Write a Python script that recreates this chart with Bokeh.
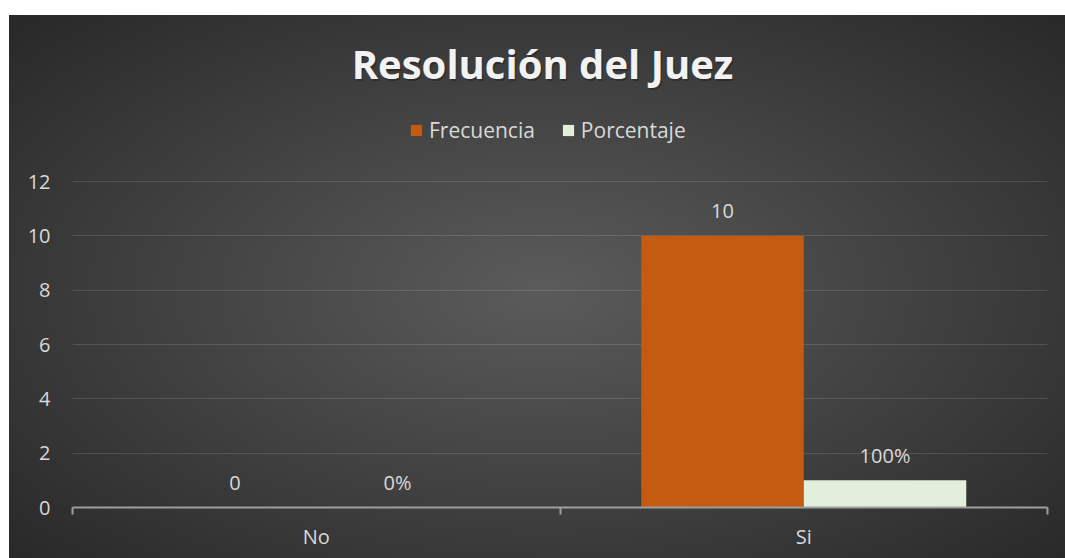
from bokeh.plotting import figure
from bokeh.models import Range1d, FixedTicker, Legend, LegendItem, Label, ColumnDataSource
from bokeh.core.properties import value
from bokeh.embed import file_html
from bokeh.resources import INLINE

# ---- data ----
categories = ["No", "Si"]
series_names = ["Frecuencia", "Porcentaje"]
frecuencia = [0, 10]
porcentaje = [0.0, 1.0]
frecuencia_labels = ["0", "10"]
porcentaje_labels = ["0%", "100%"]
y_ticks = [0, 2, 4, 6, 8, 10, 12]
title_text = "Resolución del Juez"

# ---- layout / styles ----
colors = ["#C55A11", "#E2EFDA"]
FONT = "Open Sans"
TXT = "#d9d9d9"
bar_w = 1 / 3

W, H = 1065, 558
PLOT_LEFT, PLOT_RIGHT = 72, 1047      # pixel edges of the value area
AXIS_TOP, AXIS_BOTTOM = 181, 507      # pixel of top tick and of zero line
FRAME_TOP = 15                        # frame extends up so title/legend fit inside it

px_per_unit = (AXIS_BOTTOM - AXIS_TOP) / y_ticks[-1]
y_top = y_ticks[-1] + (AXIS_TOP - FRAME_TOP) / px_per_unit

centers = [i + 0.5 for i in range(len(categories))]
x_f = [c - bar_w / 2 for c in centers]
x_p = [c + bar_w / 2 for c in centers]

src_f = ColumnDataSource(dict(x=x_f, top=frecuencia, lab=frecuencia_labels))
src_p = ColumnDataSource(dict(x=x_p, top=porcentaje, lab=porcentaje_labels))

p = figure(
    width=W, height=H,
    x_range=Range1d(0, len(categories)), y_range=Range1d(0, y_top),
    output_backend="svg", toolbar_location=None, title=None,
    min_border_left=PLOT_LEFT, min_border_right=W - PLOT_RIGHT,
    min_border_top=FRAME_TOP, min_border_bottom=H - AXIS_BOTTOM,
)
p.styles = {
    "background": "linear-gradient(#ffffff 0px, #ffffff 15px, transparent 15px), "
                  "linear-gradient(90deg, #ffffff 0px, #ffffff 9px, transparent 9px), "
                  "radial-gradient(ellipse at 51% 52%, #5b5b5b 0%, #262626 100%)"
}
p.border_fill_alpha = 0
p.background_fill_alpha = 0
p.outline_line_color = None

r_f = p.vbar(x="x", top="top", width=bar_w, source=src_f, fill_color=colors[0], line_color=None)
r_p = p.vbar(x="x", top="top", width=bar_w, source=src_p, fill_color=colors[1], line_color=None)

for src in (src_f, src_p):
    p.text(x="x", y="top", text="lab", source=src, text_align="center",
           text_baseline="alphabetic", y_offset=-25, text_color=TXT,
           text_font=value(FONT), text_font_size="20px")

# grid
p.xgrid.visible = False
p.ygrid.ticker = FixedTicker(ticks=y_ticks)
p.ygrid.grid_line_color = "#ffffff"
p.ygrid.grid_line_alpha = 0.13
p.ygrid.grid_line_width = 1.2

# y axis
p.yaxis.ticker = FixedTicker(ticks=y_ticks)
p.yaxis.axis_line_color = None
p.yaxis.major_tick_line_color = None
p.yaxis.minor_tick_line_color = None
p.yaxis.major_label_standoff = 16
p.yaxis.major_label_text_font = FONT
p.yaxis.major_label_text_font_size = "20px"
p.yaxis.major_label_text_color = TXT

# x axis: labels at category centres, ticks at category boundaries
p.xaxis.ticker = FixedTicker(ticks=centers, minor_ticks=list(range(len(categories) + 1)))
p.xaxis.major_label_overrides = {c: lab for c, lab in zip(centers, categories)}
p.xaxis.axis_line_color = "#9e9e9e"
p.xaxis.axis_line_width = 2
p.xaxis.major_tick_line_color = None
p.xaxis.minor_tick_line_color = "#9e9e9e"
p.xaxis.minor_tick_line_width = 2
p.xaxis.minor_tick_out = 7
p.xaxis.minor_tick_in = 0
p.xaxis.major_label_standoff = 8
p.xaxis.major_label_text_font = FONT
p.xaxis.major_label_text_font_size = "20px"
p.xaxis.major_label_text_color = TXT

# legend (inside the extended frame, above the value area)
legend = Legend(
    items=[LegendItem(label=series_names[0], renderers=[r_f]),
           LegendItem(label=series_names[1], renderers=[r_p])],
    orientation="horizontal", location=(409 - PLOT_LEFT, AXIS_BOTTOM - 144),
    glyph_width=14, glyph_height=14, label_standoff=6, spacing=26,
    padding=0, margin=0, border_line_color=None, background_fill_alpha=0,
    label_text_font=FONT, label_text_font_size="21px", label_text_color=TXT,
)
p.add_layout(legend)

# title
tx, ty = 542 - PLOT_LEFT, AXIS_BOTTOM - 63
p.add_layout(Label(x=tx + 1.5, y=ty - 2, x_units="screen", y_units="screen", text=title_text,
                   text_align="center", text_baseline="middle", text_font=FONT,
                   text_font_size="40px", text_font_style="bold", text_color="#000000",
                   text_alpha=0.25))
p.add_layout(Label(x=tx, y=ty, x_units="screen", y_units="screen", text=title_text,
                   text_align="center", text_baseline="middle", text_font=FONT,
                   text_font_size="40px", text_font_style="bold", text_color="#f2f2f2"))

open("out.html", "w").write(file_html(p, INLINE))
